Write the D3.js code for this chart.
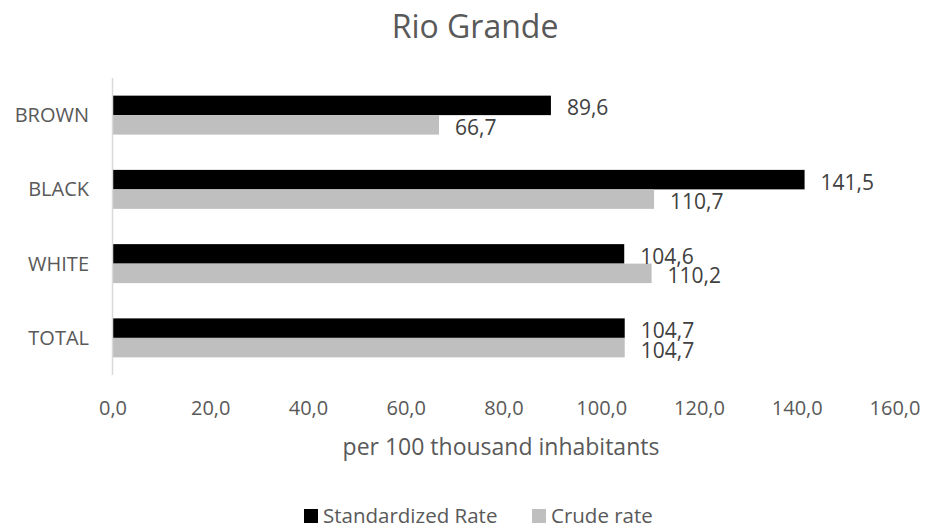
<!DOCTYPE html>
<html>
<head>
<meta charset="utf-8">
<script src="https://cdn.jsdelivr.net/npm/d3@7"></script>
<style>
  html, body { margin: 0; padding: 0; background: #fff; }
  svg { display: block; font-family: "Open Sans", sans-serif; }
</style>
</head>
<body>
<svg id="chart" width="928" height="528"></svg>
<script>
const title = "Rio Grande";
const categories = ["BROWN", "BLACK", "WHITE", "TOTAL"];
const seriesNames = ["Standardized Rate", "Crude rate"];
const standardized = [89.6, 141.5, 104.6, 104.7];
const crude = [66.7, 110.7, 110.2, 104.7];
const tickValues = [0, 20, 40, 60, 80, 100, 120, 140, 160];
const xTitle = "per 100 thousand inhabitants";
const colors = ["#000000", "#bfbfbf"];

const svg = d3.select("#chart");
const fmt = v => d3.format(".1f")(v).replace(".", ",");

const x = d3.scaleLinear().domain([0, 160]).range([113, 895]);
const y = d3.scaleBand().domain(categories).range([78, 375]).paddingInner(0.475).paddingOuter(0.2375);
const ySub = d3.scaleBand().domain(seriesNames).range([0, y.bandwidth()]);

const data = categories.map((c, i) => ({cat: c, values: [standardized[i], crude[i]]}));

// title
svg.append("text").attr("x", 475).attr("y", 38).attr("text-anchor", "middle")
  .attr("font-size", 32).attr("fill", "#595959").text(title);

// bars
const groups = svg.append("g").selectAll("g").data(data).join("g")
  .attr("transform", d => `translate(0,${y(d.cat)})`);
groups.selectAll("rect").data(d => d.values.map((v, k) => ({v, k}))).join("rect")
  .attr("x", x(0)).attr("y", d => ySub(seriesNames[d.k]))
  .attr("width", d => x(d.v) - x(0)).attr("height", ySub.bandwidth())
  .attr("fill", d => colors[d.k]);
groups.selectAll("text").data(d => d.values.map((v, k) => ({v, k}))).join("text")
  .attr("x", d => x(d.v) + 16)
  .attr("y", d => ySub(seriesNames[d.k]) + ySub.bandwidth() / 2 + 10)
  .attr("font-size", 21).attr("fill", "#404040").text(d => fmt(d.v));

// y axis line + category labels
svg.append("line").attr("x1", x(0) - 0.5).attr("x2", x(0) - 0.5).attr("y1", 78).attr("y2", 375)
  .attr("stroke", "#d9d9d9").attr("stroke-width", 1.5);
svg.append("g").selectAll("text").data(categories).join("text")
  .attr("x", 89).attr("y", d => y(d) + y.bandwidth() / 2 + 7)
  .attr("text-anchor", "end").attr("font-size", 20).attr("fill", "#595959").text(d => d);

// x tick labels
svg.append("g").selectAll("text").data(tickValues).join("text")
  .attr("x", d => x(d)).attr("y", 415).attr("text-anchor", "middle")
  .attr("font-size", 20).attr("fill", "#595959").text(d => fmt(d));

// x title
svg.append("text").attr("x", 501).attr("y", 455).attr("text-anchor", "middle")
  .attr("font-size", 23).attr("fill", "#595959").text(xTitle);

// legend
const legendX = [304, 532];
const lg = svg.append("g").selectAll("g").data(seriesNames).join("g")
  .attr("transform", (d, i) => `translate(${legendX[i]},509)`);
lg.append("rect").attr("width", 14).attr("height", 14).attr("fill", (d, i) => colors[i]);
lg.append("text").attr("x", 19).attr("y", 14).attr("font-size", 20.5).attr("fill", "#595959").text(d => d);
</script>
</body>
</html>
